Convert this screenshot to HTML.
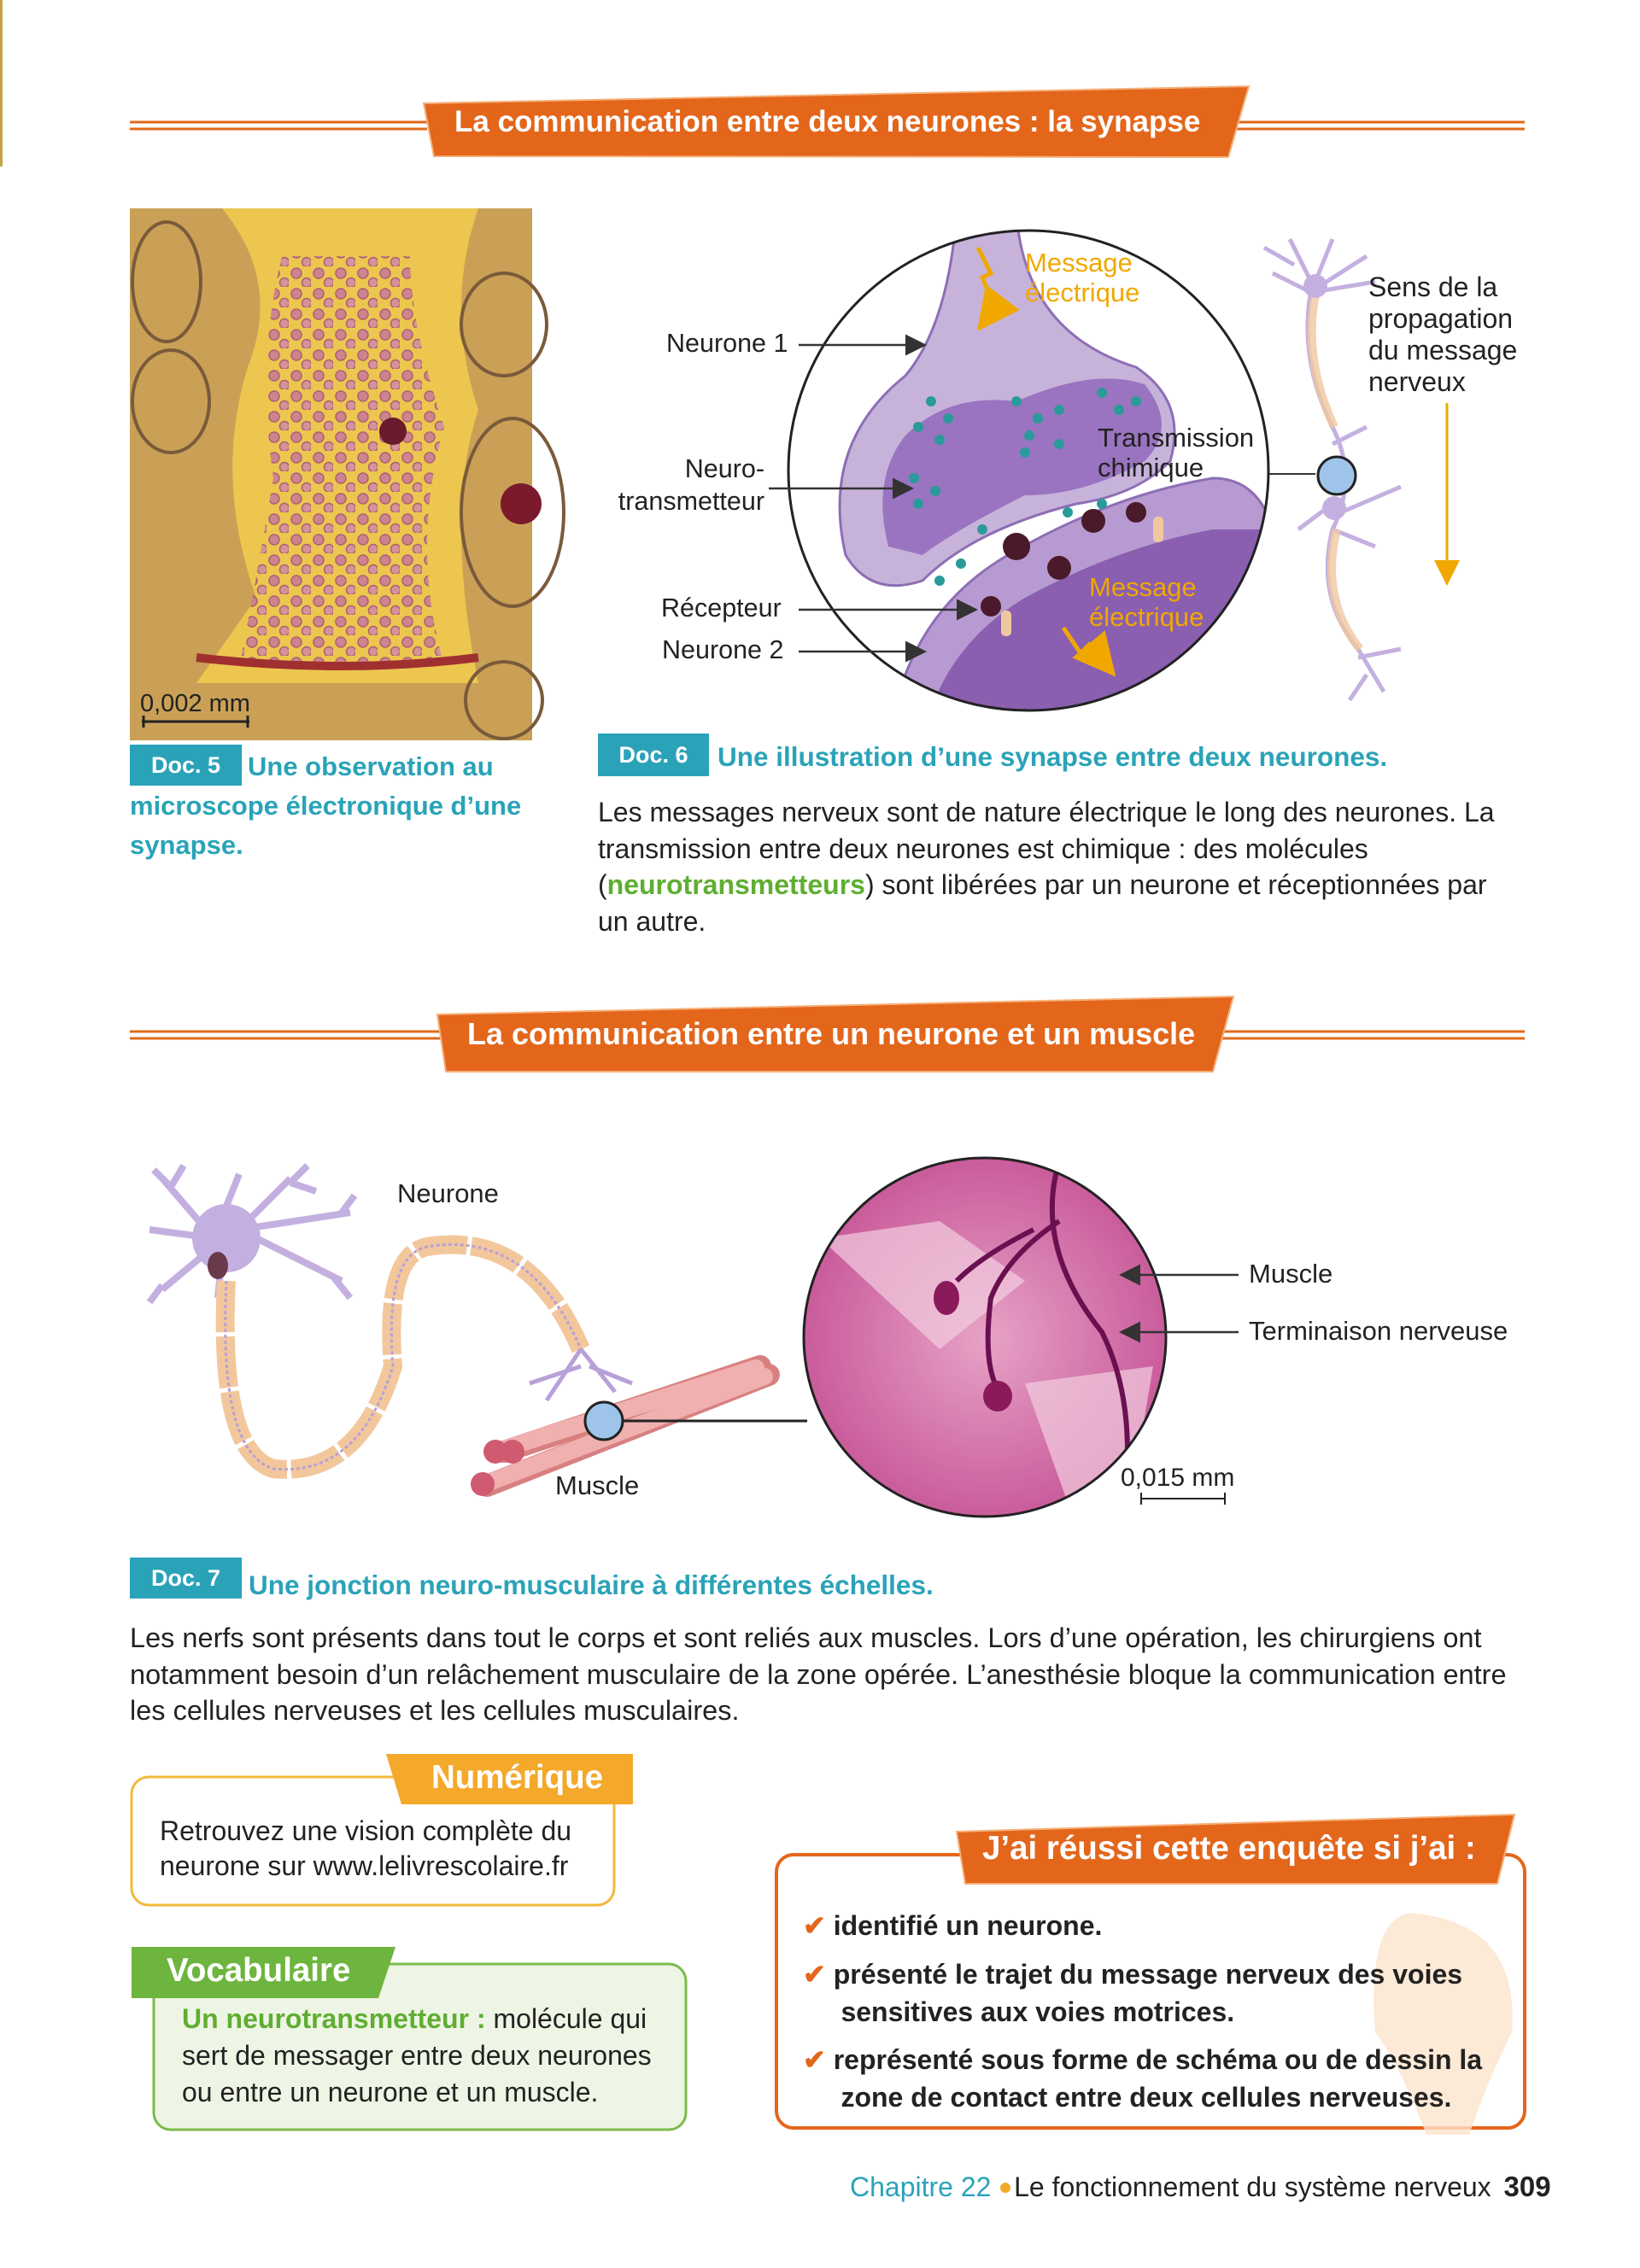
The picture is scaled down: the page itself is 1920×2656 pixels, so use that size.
<!DOCTYPE html>
<html><head><meta charset="utf-8"><style>
body{margin:0;width:1920px;height:2656px;background:#fff;position:relative;overflow:hidden;font-family:"Liberation Sans",sans-serif;color:#222}
.a{position:absolute;white-space:nowrap}
.t{font-size:32px;line-height:42.5px}
.teal{color:#2aa3b8;font-weight:bold}
.lab{position:absolute;background:#2aa3b8;color:#fff;font-weight:bold;font-size:27px;text-align:center}
</style></head><body>
<svg class="a" style="left:0;top:0" width="1920" height="2656">
<defs>
<pattern id="ves" width="26" height="24" patternUnits="userSpaceOnUse"><circle cx="9" cy="8" r="6" fill="#c9789a" stroke="#a04e78" stroke-width="1.5"/><circle cx="21" cy="19" r="5.5" fill="#d08aa5" stroke="#a04e78" stroke-width="1.5"/></pattern>
<radialGradient id="mus" cx="50%" cy="50%" r="60%"><stop offset="0" stop-color="#e7a2c6"/><stop offset="1" stop-color="#c34d92"/></radialGradient>
<clipPath id="c1"><circle cx="1204" cy="551" r="281"/></clipPath>
<clipPath id="c2"><ellipse cx="1153" cy="1566" rx="212" ry="210"/></clipPath>
<marker id="ar" markerWidth="10" markerHeight="10" refX="8" refY="5" orient="auto"><path d="M0,0L10,5L0,10z" fill="#333"/></marker>
<marker id="ay" markerWidth="10" markerHeight="10" refX="8" refY="5" orient="auto"><path d="M0,0L10,5L0,10z" fill="#f0a800"/></marker>
</defs>
<rect x="0" y="0" width="3" height="195" fill="#c8a24a"/>
<g stroke="#e06a1a" stroke-width="3"><line x1="152" y1="143" x2="500" y2="143"/><line x1="152" y1="151" x2="500" y2="151"/><line x1="1435" y1="143" x2="1785" y2="143"/><line x1="1435" y1="151" x2="1785" y2="151"/>
<line x1="152" y1="1208" x2="515" y2="1208"/><line x1="152" y1="1216" x2="515" y2="1216"/><line x1="1420" y1="1208" x2="1785" y2="1208"/><line x1="1420" y1="1216" x2="1785" y2="1216"/></g>
<polygon points="496,121 1462,101 1438,184 508,183" fill="#e3661b" stroke="#f5b07a" stroke-width="2"/>
<polygon points="512,1188 1444,1167 1420,1255 522,1255" fill="#e3661b" stroke="#f5b07a" stroke-width="2"/>
<rect x="152" y="244" width="471" height="623" fill="#c9a055"/>
<path d="M260,244 Q330,330 290,430 Q250,560 300,700 L230,800 L560,800 Q520,600 560,480 Q520,360 560,244Z" fill="#ecc64e"/>
<path d="M330,300 Q300,420 320,560 Q300,680 280,780 L520,780 Q480,640 520,500 Q480,380 480,300Z" fill="url(#ves)" opacity=".85"/>
<g fill="none" stroke="#7a5a3a" stroke-width="4"><ellipse cx="195" cy="330" rx="40" ry="70"/><ellipse cx="200" cy="470" rx="45" ry="60"/><ellipse cx="600" cy="600" rx="60" ry="110"/><ellipse cx="590" cy="380" rx="50" ry="60"/><ellipse cx="590" cy="820" rx="45" ry="45"/></g>
<circle cx="460" cy="505" r="16" fill="#6a1a2a"/><circle cx="610" cy="590" r="24" fill="#7a1a2a"/>
<path d="M230,770 Q400,790 560,770" stroke="#a03030" stroke-width="10" fill="none"/>
<line x1="166" y1="845" x2="292" y2="845" stroke="#222" stroke-width="3"/><line x1="168" y1="838" x2="168" y2="852" stroke="#222" stroke-width="3"/><line x1="290" y1="838" x2="290" y2="852" stroke="#222" stroke-width="3"/>
<g clip-path="url(#c1)">
<rect x="900" y="260" width="620" height="600" fill="#fff"/>
<path d="M1120,250 L1190,250 Q1200,390 1330,430 Q1390,470 1370,540 Q1330,580 1260,590 Q1140,620 1080,680 Q1020,700 990,650 Q960,520 1060,440 Q1110,380 1120,250Z" fill="#c7b3da" stroke="#8e6eb5" stroke-width="3"/>
<path d="M1040,640 Q1020,560 1060,510 Q1110,460 1190,470 Q1280,430 1340,450 Q1380,500 1340,540 Q1270,580 1200,580 Q1120,620 1080,650Z" fill="#9a74c0"/>
<path d="M1040,870 Q1060,720 1180,650 Q1300,580 1420,560 Q1500,560 1500,700 L1500,870Z" fill="#b89ad2" stroke="#8e6eb5" stroke-width="3"/>
<path d="M1080,870 Q1100,760 1200,700 Q1310,640 1420,620 L1500,620 L1500,870Z" fill="#8a5fb0"/>
<g fill="#2a9a9a"><circle cx="1090" cy="470" r="6"/><circle cx="1110" cy="490" r="6"/><circle cx="1075" cy="500" r="6"/><circle cx="1100" cy="515" r="6"/><circle cx="1190" cy="470" r="6"/><circle cx="1215" cy="490" r="6"/><circle cx="1240" cy="480" r="6"/><circle cx="1205" cy="510" r="6"/><circle cx="1290" cy="460" r="6"/><circle cx="1310" cy="480" r="6"/><circle cx="1330" cy="470" r="6"/><circle cx="1070" cy="560" r="6"/><circle cx="1095" cy="575" r="6"/><circle cx="1075" cy="590" r="6"/><circle cx="1200" cy="530" r="6"/><circle cx="1240" cy="520" r="6"/><circle cx="1125" cy="660" r="6"/><circle cx="1150" cy="620" r="6"/><circle cx="1250" cy="600" r="6"/><circle cx="1100" cy="680" r="6"/><circle cx="1290" cy="590" r="6"/></g>
<g fill="#4a1a2a"><circle cx="1190" cy="640" r="16"/><circle cx="1240" cy="665" r="14"/><circle cx="1280" cy="610" r="14"/><circle cx="1330" cy="600" r="12"/><circle cx="1160" cy="710" r="12"/></g>
<g fill="#f0c8a0"><rect x="1172" y="715" width="12" height="30" rx="5"/><rect x="1350" y="605" width="12" height="30" rx="5"/></g>
<path d="M1145,290 L1160,320 L1150,325 L1165,360 L1150,380" stroke="#f0a800" stroke-width="5" fill="none" marker-end="url(#ay)"/>
<path d="M1245,735 L1265,765 L1275,755 L1300,785" stroke="#f0a800" stroke-width="5" fill="none" marker-end="url(#ay)"/>
</g>
<circle cx="1204" cy="551" r="281" fill="none" stroke="#222" stroke-width="3"/>
<g stroke="#333" stroke-width="2.5" fill="none" marker-end="url(#ar)"><line x1="935" y1="404" x2="1080" y2="404"/><line x1="900" y1="572" x2="1065" y2="572"/><line x1="935" y1="714" x2="1140" y2="714"/><line x1="935" y1="763" x2="1080" y2="763"/></g>
<line x1="1486" y1="555" x2="1540" y2="555" stroke="#333" stroke-width="2"/>
<g stroke="#c4b0e0" stroke-width="5" fill="none"><path d="M1510,280 L1535,330 M1560,280 L1540,330 M1490,320 L1530,340 M1600,300 L1545,335 M1480,290 L1515,310 M1610,330 L1550,340"/><path d="M1535,340 Q1520,420 1560,500 Q1590,560 1560,620 Q1540,700 1590,760 L1620,810"/><path d="M1560,520 L1600,500 M1560,590 L1520,620 M1570,600 L1640,570 M1560,620 L1610,640 M1590,770 L1640,760 M1600,790 L1580,820"/></g>
<path d="M1540,345 Q1525,420 1562,500" stroke="#f0c8a0" stroke-width="10" fill="none" opacity=".8"/>
<path d="M1565,620 Q1545,700 1592,760" stroke="#f0c8a0" stroke-width="10" fill="none" opacity=".8"/>
<circle cx="1540" cy="335" r="14" fill="#c4b0e0"/><circle cx="1562" cy="595" r="14" fill="#c4b0e0"/>
<circle cx="1565" cy="557" r="22" fill="#9fc4ea" stroke="#222" stroke-width="3"/>
<line x1="1694" y1="472" x2="1694" y2="680" stroke="#f0a800" stroke-width="3" marker-end="url(#ay)"/>
<g stroke="#c4b0e0" stroke-width="8" fill="none"><path d="M250,1450 L190,1380 M250,1450 L280,1375 M250,1450 L175,1440 M280,1440 L340,1380 M280,1440 L410,1420 M280,1440 L400,1500 M250,1460 L190,1510 M260,1470 L255,1520 M200,1390 L180,1370 M200,1390 L215,1365 M340,1385 L360,1365 M340,1385 L370,1395 M400,1420 L415,1400 M390,1495 L410,1520 M190,1505 L175,1525"/></g>
<circle cx="265" cy="1450" r="40" fill="#c4b0e0"/><ellipse cx="255" cy="1482" rx="12" ry="16" fill="#6a3a4a"/>
<path d="M265,1500 Q255,1700 320,1720 Q420,1730 460,1600 Q450,1470 500,1460 Q620,1440 680,1580" stroke="#f3c79c" stroke-width="22" fill="none" stroke-dasharray="60 5"/>
<path d="M265,1500 Q255,1700 320,1720 Q420,1730 460,1600 Q450,1470 500,1460 Q620,1440 680,1580" stroke="#b8a0d8" stroke-width="3" fill="none" stroke-dasharray="4 3"/>
<g stroke="#d88080" stroke-width="26" stroke-linecap="round"><line x1="570" y1="1740" x2="900" y2="1610"/><line x1="590" y1="1700" x2="890" y2="1600"/></g>
<g stroke="#f0b0b0" stroke-width="20" stroke-linecap="round"><line x1="575" y1="1735" x2="895" y2="1612"/><line x1="595" y1="1695" x2="885" y2="1602"/></g>
<circle cx="565" cy="1738" r="14" fill="#d05a70"/><circle cx="580" cy="1700" r="14" fill="#d05a70"/><circle cx="600" cy="1700" r="14" fill="#d05a70"/>
<g stroke="#b8a0d8" stroke-width="5" fill="none"><path d="M680,1580 L640,1640 M680,1580 L720,1630 M680,1600 L620,1620 M690,1600 L740,1620"/></g>
<circle cx="707" cy="1664" r="22" fill="#9fc4ea" stroke="#222" stroke-width="3"/>
<line x1="729" y1="1664" x2="945" y2="1664" stroke="#222" stroke-width="3"/>
<g clip-path="url(#c2)">
<rect x="940" y="1355" width="430" height="425" fill="url(#mus)"/>
<path d="M960,1450 L1100,1430 L1200,1500 L1100,1580Z M1200,1620 L1350,1600 L1330,1720 L1250,1760Z" fill="#f2cde0" opacity=".7"/>
<g stroke="#6a1050" stroke-width="6" fill="none"><path d="M1240,1360 Q1210,1460 1290,1560 Q1320,1620 1320,1700"/><path d="M1240,1430 Q1180,1470 1160,1520 Q1150,1600 1170,1630"/><path d="M1210,1440 Q1150,1470 1120,1500"/></g>
<ellipse cx="1108" cy="1520" rx="15" ry="20" fill="#8a1a5a"/><ellipse cx="1168" cy="1635" rx="17" ry="18" fill="#8a1a5a"/>
</g>
<ellipse cx="1153" cy="1566" rx="212" ry="210" fill="none" stroke="#222" stroke-width="3"/>
<g stroke="#333" stroke-width="2.5" fill="none" marker-end="url(#ar)"><line x1="1450" y1="1493" x2="1315" y2="1493"/><line x1="1450" y1="1560" x2="1315" y2="1560"/></g>
<line x1="1335" y1="1755" x2="1435" y2="1755" stroke="#222" stroke-width="2"/><line x1="1336" y1="1748" x2="1336" y2="1762" stroke="#222" stroke-width="2"/><line x1="1434" y1="1748" x2="1434" y2="1762" stroke="#222" stroke-width="2"/>
<rect x="154" y="2081" width="565" height="150" rx="20" fill="#fff" stroke="#f2b83a" stroke-width="3"/>
<polygon points="452,2054 741,2054 741,2113 470,2113" fill="#f4a92a"/>
<rect x="180" y="2300" width="623" height="194" rx="20" fill="#eef5e4" stroke="#7cbc4a" stroke-width="3"/>
<polygon points="154,2280 463,2280 443,2340 154,2340" fill="#6db53e"/>
<rect x="909" y="2172" width="876" height="320" rx="20" fill="#fff" stroke="#e3661b" stroke-width="4"/>
<path d="M1650,2240 Q1780,2250 1770,2380 Q1740,2440 1720,2500 L1670,2500 Q1640,2420 1610,2380 Q1600,2250 1650,2240Z" fill="#fbe3cc" opacity=".8"/>
<polygon points="1120,2145 1773,2125 1753,2206 1130,2206" fill="#e3661b" stroke="#f5b07a" stroke-width="2"/>
<circle cx="1177" cy="2562" r="6" fill="#f4a92a"/>
</svg>
<div class="a" style="left:532px;top:123px;font-size:35px;color:#fff;font-weight:bold">La communication entre deux neurones : la synapse</div>
<div class="a" style="left:547px;top:1190px;font-size:36px;color:#fff;font-weight:bold">La communication entre un neurone et un muscle</div>
<div class="a" style="left:164px;top:808px;font-size:29px">0,002 mm</div>
<div class="lab" style="left:152px;top:872px;width:131px;height:48px;line-height:48px">Doc. 5</div>
<div class="a teal" style="left:290px;top:880px;font-size:31px">Une observation au</div>
<div class="a teal" style="left:152px;top:926px;font-size:31px">microscope électronique d’une</div>
<div class="a teal" style="left:152px;top:972px;font-size:31px">synapse.</div>
<div class="a" style="left:780px;top:385px;font-size:30.5px">Neurone 1</div>
<div class="a" style="left:700px;top:530px;font-size:30.5px;text-align:right;line-height:38px;width:195px">Neuro-<br>transmetteur</div>
<div class="a" style="left:774px;top:695px;font-size:30.5px">Récepteur</div>
<div class="a" style="left:775px;top:744px;font-size:30.5px">Neurone 2</div>
<div class="a" style="left:1200px;top:290px;font-size:31px;color:#f0a800;line-height:35px">Message<br>électrique</div>
<div class="a" style="left:1275px;top:670px;font-size:31px;color:#f0a800;line-height:35px">Message<br>électrique</div>
<div class="a" style="left:1285px;top:495px;font-size:31px;line-height:35px">Transmission<br>chimique</div>
<div class="a" style="left:1602px;top:318px;font-size:32px;line-height:37px">Sens de la<br>propagation<br>du message<br>nerveux</div>
<div class="lab" style="left:700px;top:859px;width:130px;height:50px;line-height:50px">Doc. 6</div>
<div class="a teal" style="left:840px;top:868px;font-size:31.5px">Une illustration d’une synapse entre deux neurones.</div>
<div class="a t" style="left:700px;top:930px">Les messages nerveux sont de nature électrique le long des neurones. La<br>transmission entre deux neurones est chimique : des molécules<br>(<b style="color:#5fae32">neurotransmetteurs</b>) sont libérées par un neurone et réceptionnées par<br>un autre.</div>
<div class="a" style="left:465px;top:1380px;font-size:31px">Neurone</div>
<div class="a" style="left:650px;top:1722px;font-size:31px">Muscle</div>
<div class="a" style="left:1462px;top:1474px;font-size:31px">Muscle</div>
<div class="a" style="left:1462px;top:1541px;font-size:31px">Terminaison nerveuse</div>
<div class="a" style="left:1312px;top:1714px;font-size:30px">0,015 mm</div>
<div class="lab" style="left:152px;top:1824px;width:131px;height:48px;line-height:48px">Doc. 7</div>
<div class="a teal" style="left:291px;top:1838px;font-size:31.5px">Une jonction neuro-musculaire à différentes échelles.</div>
<div class="a t" style="left:152px;top:1897px;font-size:32.5px">Les nerfs sont présents dans tout le corps et sont reliés aux muscles. Lors d’une opération, les chirurgiens ont<br>notamment besoin d’un relâchement musculaire de la zone opérée. L’anesthésie bloque la communication entre<br>les cellules nerveuses et les cellules musculaires.</div>
<div class="a" style="left:505px;top:2060px;font-size:38.5px;color:#fff;font-weight:bold">Numérique</div>
<div class="a" style="left:187px;top:2124px;font-size:32px;line-height:41px">Retrouvez une vision complète du<br>neurone sur www.lelivrescolaire.fr</div>
<div class="a" style="left:195px;top:2286px;font-size:38.5px;color:#fff;font-weight:bold">Vocabulaire</div>
<div class="a" style="left:213px;top:2343px;font-size:32px;line-height:43px"><b style="color:#5fae32">Un neurotransmetteur :</b> molécule qui<br>sert de messager entre deux neurones<br>ou entre un neurone et un muscle.</div>
<div class="a" style="left:1150px;top:2143px;font-size:38.5px;color:#fff;font-weight:bold">J’ai réussi cette enquête si j’ai :</div>
<div class="a" style="left:940px;top:2233px;font-size:32px;font-weight:bold;line-height:44px;color:#222"><span style="color:#e3661b">✔</span> identifié un neurone.</div>
<div class="a" style="left:940px;top:2290px;font-size:32px;font-weight:bold;line-height:44px"><span style="color:#e3661b">✔</span> présenté le trajet du message nerveux des voies<br>&nbsp;&nbsp;&nbsp;&nbsp;&nbsp;sensitives aux voies motrices.</div>
<div class="a" style="left:940px;top:2390px;font-size:32px;font-weight:bold;line-height:44px"><span style="color:#e3661b">✔</span> représenté sous forme de schéma ou de dessin la<br>&nbsp;&nbsp;&nbsp;&nbsp;&nbsp;zone de contact entre deux cellules nerveuses.</div>
<div class="a" style="left:995px;top:2542px;font-size:32px"><span style="color:#2aa3b8">Chapitre 22</span> &nbsp;&nbsp;Le fonctionnement du système nerveux <b style="margin-left:6px;font-size:33px">309</b></div>
</body></html>
